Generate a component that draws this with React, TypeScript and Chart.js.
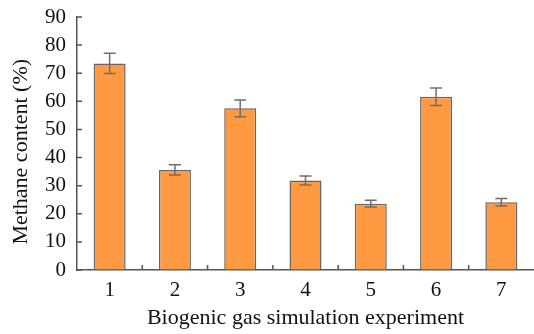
import React, { useEffect, useRef } from "react";
import { Chart, registerables } from "chart.js";

Chart.register(...registerables);

const categories = ["1", "2", "3", "4", "5", "6", "7"];
const methaneValues = [73.5, 35.6, 57.5, 31.8, 23.6, 61.6, 24.1];
const errorValues = [3.6, 1.8, 3.0, 1.6, 1.2, 3.1, 1.3];
const yTicks = [0, 10, 20, 30, 40, 50, 60, 70, 80, 90];

const AXIS_COLOR = "#555555";
const FONT = "'Liberation Serif', 'Times New Roman', serif";

const errorBarPlugin = {
  id: "errorBars",
  afterDatasetsDraw(chart: any) {
    const meta = chart.getDatasetMeta(0);
    const y = chart.scales.y;
    const ctx = chart.ctx;
    ctx.save();
    ctx.strokeStyle = "#6e6e6e";
    ctx.lineWidth = 1.5;
    meta.data.forEach((bar: any, i: number) => {
      const v = methaneValues[i];
      const e = errorValues[i];
      const yt = y.getPixelForValue(v + e);
      const yb = y.getPixelForValue(v - e);
      const x = bar.x;
      const cap = 6;
      ctx.beginPath();
      ctx.moveTo(x, yt);
      ctx.lineTo(x, yb);
      ctx.moveTo(x - cap, yt);
      ctx.lineTo(x + cap, yt);
      ctx.moveTo(x - cap, yb);
      ctx.lineTo(x + cap, yb);
      ctx.stroke();
    });
    ctx.restore();
  },
};

const inwardTicksPlugin = {
  id: "inwardTicks",
  afterDraw(chart: any) {
    const { ctx, chartArea } = chart;
    const x = chart.scales.x;
    const y = chart.scales.y;
    ctx.save();
    ctx.strokeStyle = AXIS_COLOR;
    ctx.lineWidth = 1.5;
    ctx.beginPath();
    yTicks.forEach((t) => {
      const py = y.getPixelForValue(t);
      ctx.moveTo(chartArea.left, py);
      ctx.lineTo(chartArea.left + 5, py);
    });
    for (let i = 0; i < categories.length - 1; i++) {
      const px = (x.getPixelForValue(i) + x.getPixelForValue(i + 1)) / 2;
      ctx.moveTo(px, chartArea.bottom);
      ctx.lineTo(px, chartArea.bottom - 5);
    }
    ctx.stroke();
    ctx.restore();
  },
};

export default function App() {
  const ref = useRef<HTMLCanvasElement | null>(null);

  useEffect(() => {
    if (!ref.current) return;
    const chart = new Chart(ref.current, {
      type: "bar",
      data: {
        labels: categories,
        datasets: [
          {
            data: methaneValues,
            backgroundColor: "#FF9A42",
            borderColor: "#666666",
            borderWidth: 1.5,
            barPercentage: 0.49,
            categoryPercentage: 1,
          },
        ],
      },
      options: {
        animation: false,
        responsive: false,
        maintainAspectRatio: false,
        layout: { padding: { top: 17, right: 0, bottom: 0, left: 0 } },
        plugins: {
          legend: { display: false },
          tooltip: { enabled: false },
        },
        scales: {
          x: {
            grid: { display: false, drawTicks: false },
            border: { display: true, color: AXIS_COLOR, width: 1.5 },
            ticks: {
              color: "#111",
              padding: 8,
              font: { family: FONT, size: 21, lineHeight: 1.2 },
            },
            title: {
              display: true,
              text: "Biogenic gas simulation experiment",
              color: "#111",
              font: { family: FONT, size: 22, lineHeight: 1.2 },
              padding: { top: 0, bottom: 3 },
            },
            afterFit(scale: any) {
              scale.height = 64;
            },
          },
          y: {
            min: 0,
            max: 90,
            grid: {
              display: true,
              drawOnChartArea: false,
              drawTicks: true,
              tickLength: 11,
              tickColor: "rgba(0,0,0,0)",
            },
            border: { display: true, color: AXIS_COLOR, width: 1.5 },
            ticks: {
              stepSize: 10,
              autoSkip: false,
              color: "#111",
              padding: 0,
              font: { family: FONT, size: 21, lineHeight: 1.2 },
            },
            title: {
              display: true,
              text: "Methane content (%)   ",
              color: "#111",
              font: { family: FONT, size: 22, lineHeight: 1.2 },
              padding: { top: 8, bottom: 0 },
            },
            afterFit(scale: any) {
              scale.width = 77;
            },
          },
        },
      },
      plugins: [errorBarPlugin, inwardTicksPlugin],
    });
    return () => chart.destroy();
  }, []);

  return (
    <div style={{ position: "absolute", left: 0, top: 0, width: 534, height: 334, background: "#fff" }}>
      <canvas ref={ref} width={534} height={334} style={{ width: 534, height: 334, display: "block" }} />
    </div>
  );
}
